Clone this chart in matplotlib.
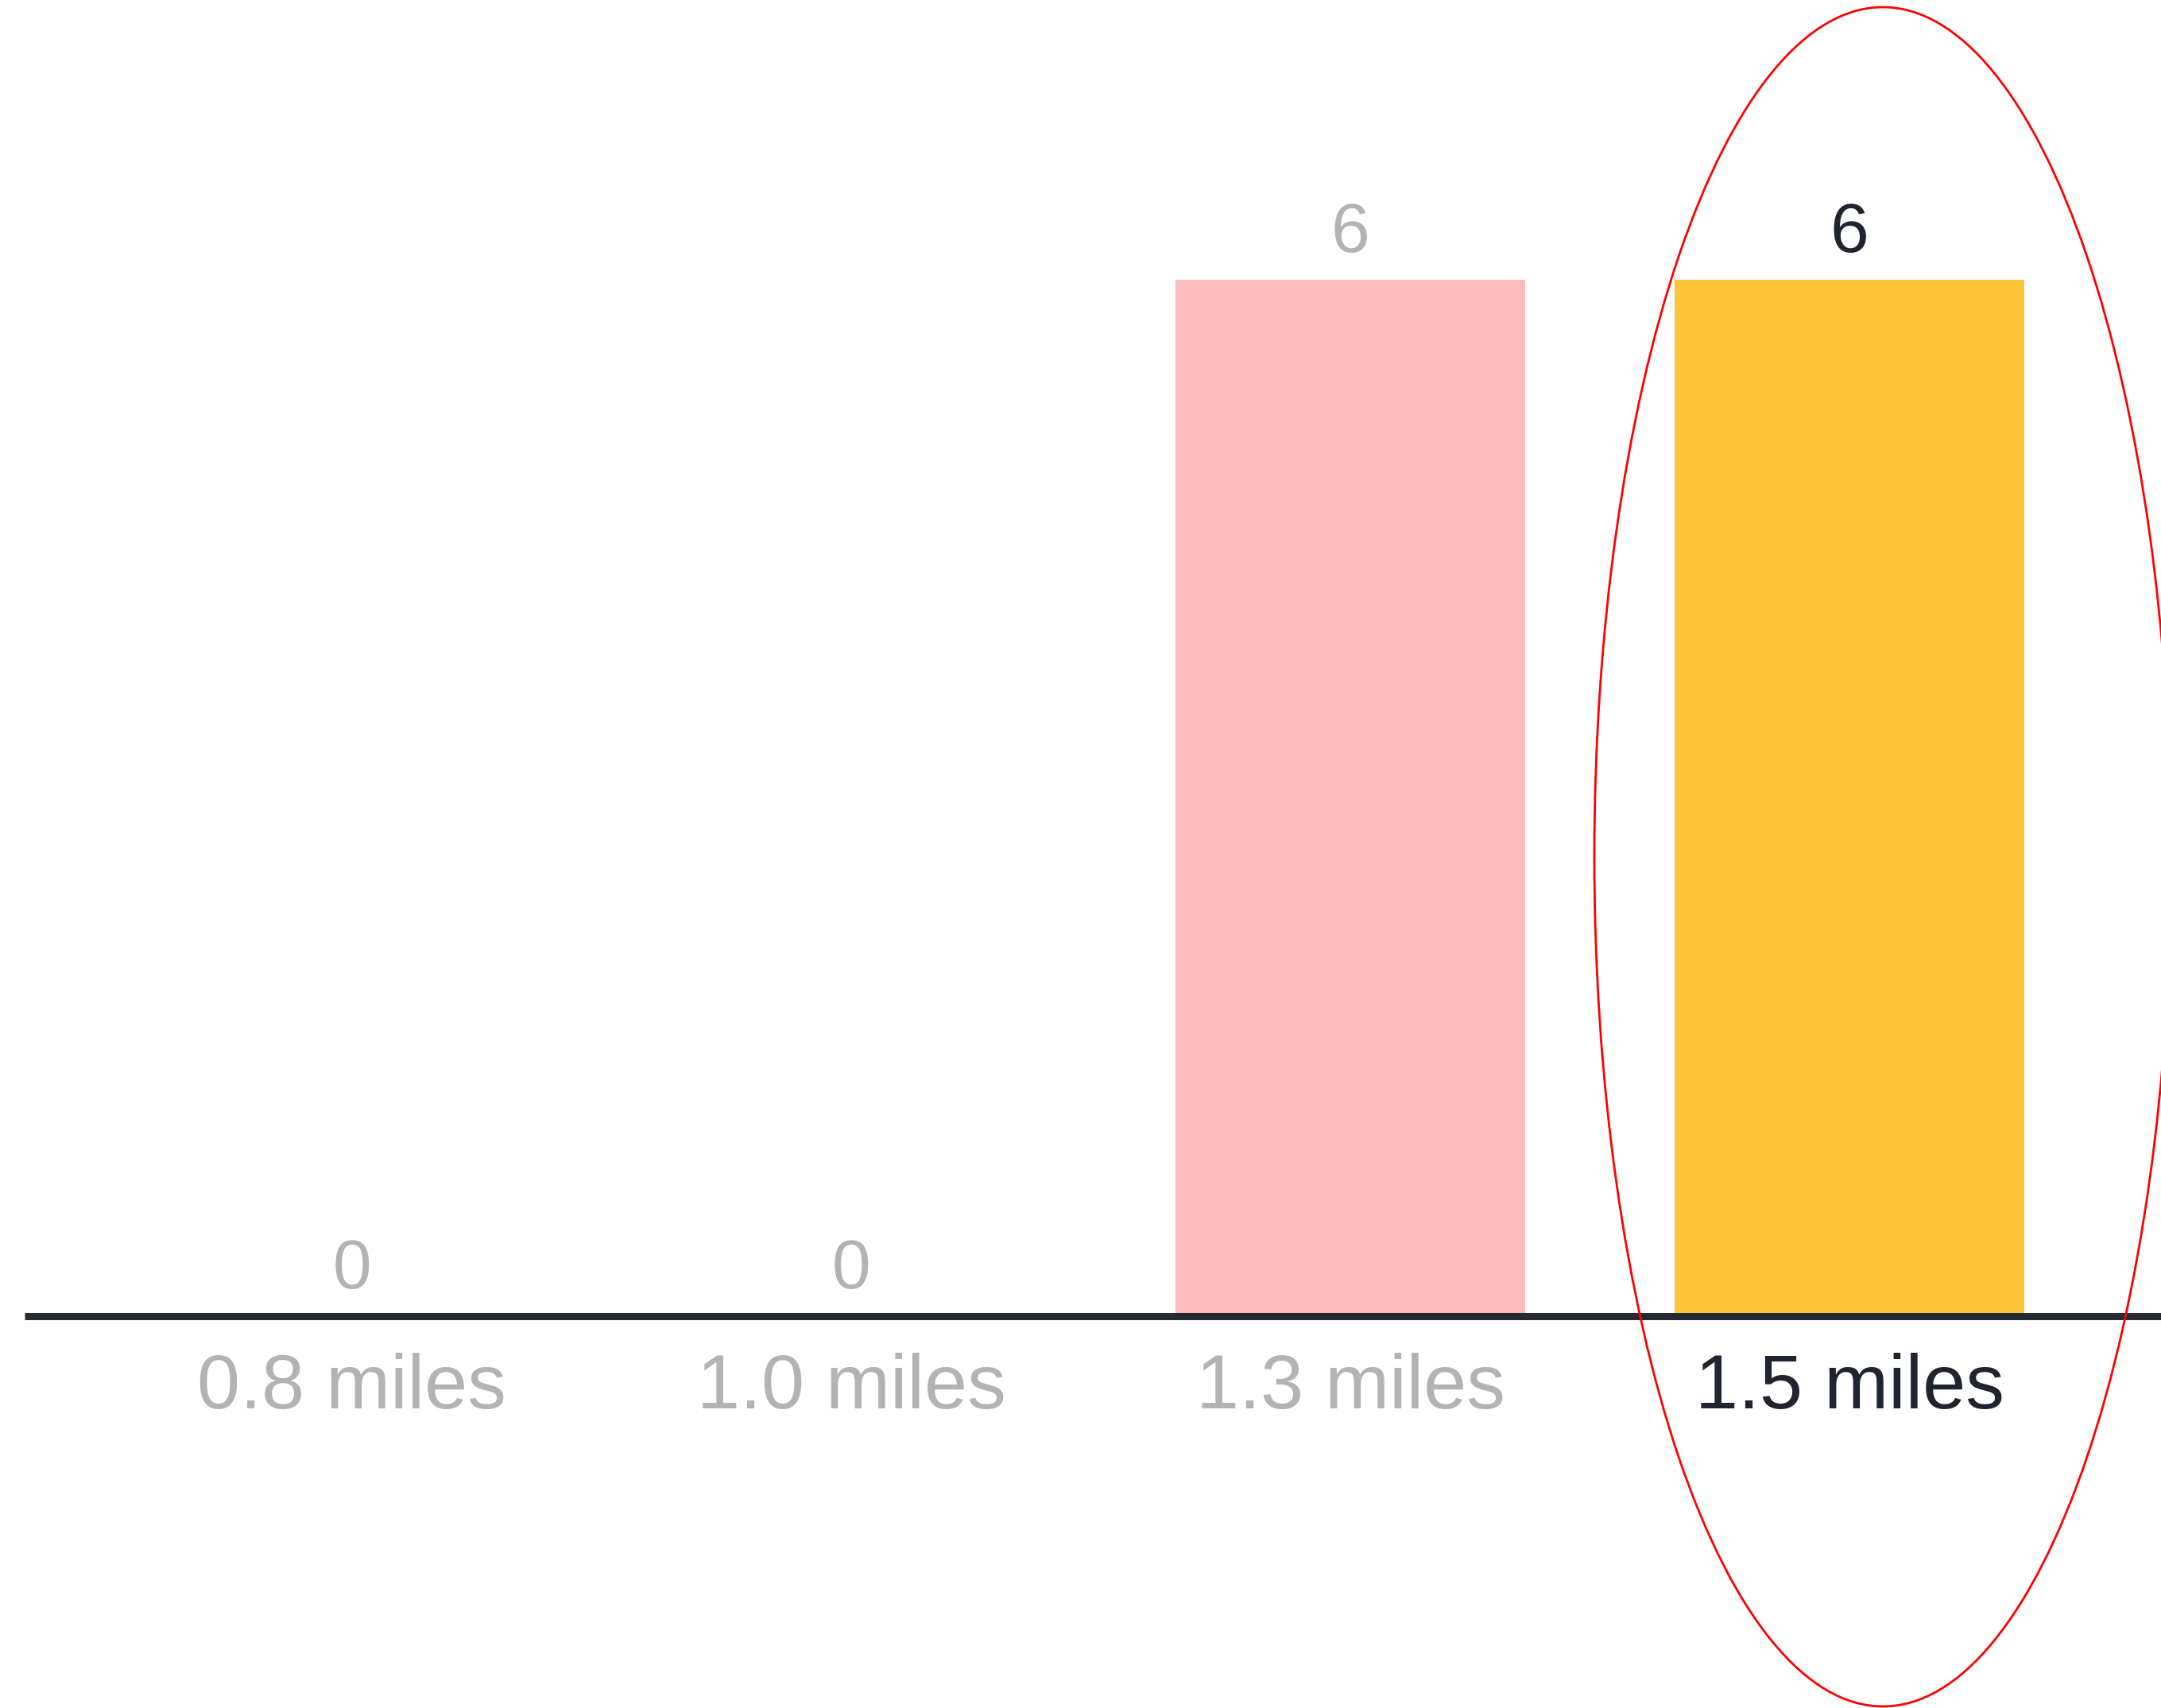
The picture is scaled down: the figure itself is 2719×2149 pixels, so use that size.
import matplotlib
matplotlib.use("Agg")
import matplotlib.pyplot as plt
from matplotlib.patches import Ellipse

categories = ["0.8 miles", "1.0 miles", "1.3 miles", "1.5 miles"]
values = [0, 0, 6, 6]
bar_colors = ["#fdbbbb", "#fdbbbb", "#fdbbbb", "#fdc53a"]
text_colors = ["#b3b3b3", "#b3b3b3", "#b3b3b3", "#1f2430"]

plt.rcParams['font.family'] = ['Liberation Sans', 'DejaVu Sans']

W, H = 2719, 2149
fig = plt.figure(figsize=(W / 100, H / 100), dpi=100)
fig.patch.set_facecolor("white")
ax = fig.add_axes([0, 0, 1, 1])
ax.set_axis_off()

x = list(range(len(categories)))
ax.bar(x, values, width=0.70, color=bar_colors, zorder=2)

ax.set_xlim(-0.705, 3.624)
ax.set_ylim(-2.269, 7.62)

ax.axhline(0, xmin=31 / W, xmax=1, color="#262a35", linewidth=6.5,
           solid_capstyle="butt", zorder=3)

for xi, v, tc, lab in zip(x, values, text_colors, categories):
    ax.text(xi, v + 0.16, str(v), ha="center", va="baseline",
            fontsize=63, color=tc)
    ax.text(xi, -0.534, lab, ha="center", va="baseline",
            fontsize=70, color=tc)

ell = Ellipse((2369 / W, 1 - 1078 / H), 726 / W, 2138 / H,
              transform=fig.transFigure, fill=False, edgecolor="red",
              linewidth=2.0, zorder=5)
fig.add_artist(ell)

fig.savefig("out.png", dpi=100, facecolor="white")
